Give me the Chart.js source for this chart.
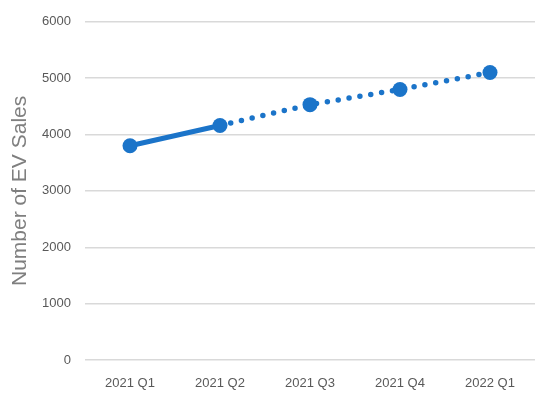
<!DOCTYPE html>
<html>
<head>
<meta charset="utf-8">
<script src="https://cdn.jsdelivr.net/npm/chart.js@4"></script>
<style>
  html, body { margin: 0; padding: 0; background: #fff; }
  #wrap { width: 550px; height: 393px; }
</style>
</head>
<body>
<div id="wrap"><canvas id="evChart" width="550" height="393"></canvas></div>
<script>
// quarters and EV sales
const quarters = ["2021 Q1", "2021 Q2", "2021 Q3", "2021 Q4", "2022 Q1"]
const evSales = [3800, 4160, 4530, 4800, 5100]
const yTicks = [0, 1000, 2000, 3000, 4000, 5000, 6000]

const blue = "#1b74c9"

// first segment is actual data (solid), the rest is a forecast (dotted)
const dottedFrom = 1

new Chart(document.getElementById("evChart"), {
  type: "line",
  data: {
    labels: quarters,
    datasets: [
      {
        data: evSales,
        borderColor: blue,
        backgroundColor: blue,
        borderWidth: 5,
        borderCapStyle: "round",
        pointRadius: 7.5,
        pointHoverRadius: 7.5,
        pointBorderWidth: 0,
        tension: 0,
        segment: {
          borderDash: (ctx) => (ctx.p0DataIndex >= dottedFrom ? [0, 11] : undefined),
          borderWidth: (ctx) => (ctx.p0DataIndex >= dottedFrom ? 5.5 : 5),
        },
      },
    ],
  },
  options: {
    responsive: false,
    animation: false,
    layout: { padding: { top: 20, right: 15, left: 0, bottom: 0 } },
    plugins: {
      legend: { display: false },
      tooltip: { enabled: false },
    },
    scales: {
      x: {
        offset: true,
        grid: { display: false },
        border: { display: false },
        ticks: { color: "#595959", font: { family: "Liberation Sans", size: 13 }, padding: 8 },
        afterFit: (s) => { s.height = 33 },
      },
      y: {
        min: 0,
        max: 6000,
        afterBuildTicks: (s) => { s.ticks = yTicks.map((v) => ({ value: v })) },
        grid: { color: "#d9d9d9", lineWidth: 1.5, drawTicks: false },
        border: { display: false },
        ticks: {
          color: "#595959",
          font: { family: "Liberation Sans", size: 13 },
          padding: 14,
          callback: (v) => String(v),
        },
        title: {
          display: true,
          text: "Number of EV Sales",
          color: "#7f7f7f",
          font: { family: "Liberation Sans", size: 21 },
          padding: { top: 8, bottom: 0 },
        },
        afterFit: (s) => { s.width = 85 },
      },
    },
  },
})
</script>
</body>
</html>
